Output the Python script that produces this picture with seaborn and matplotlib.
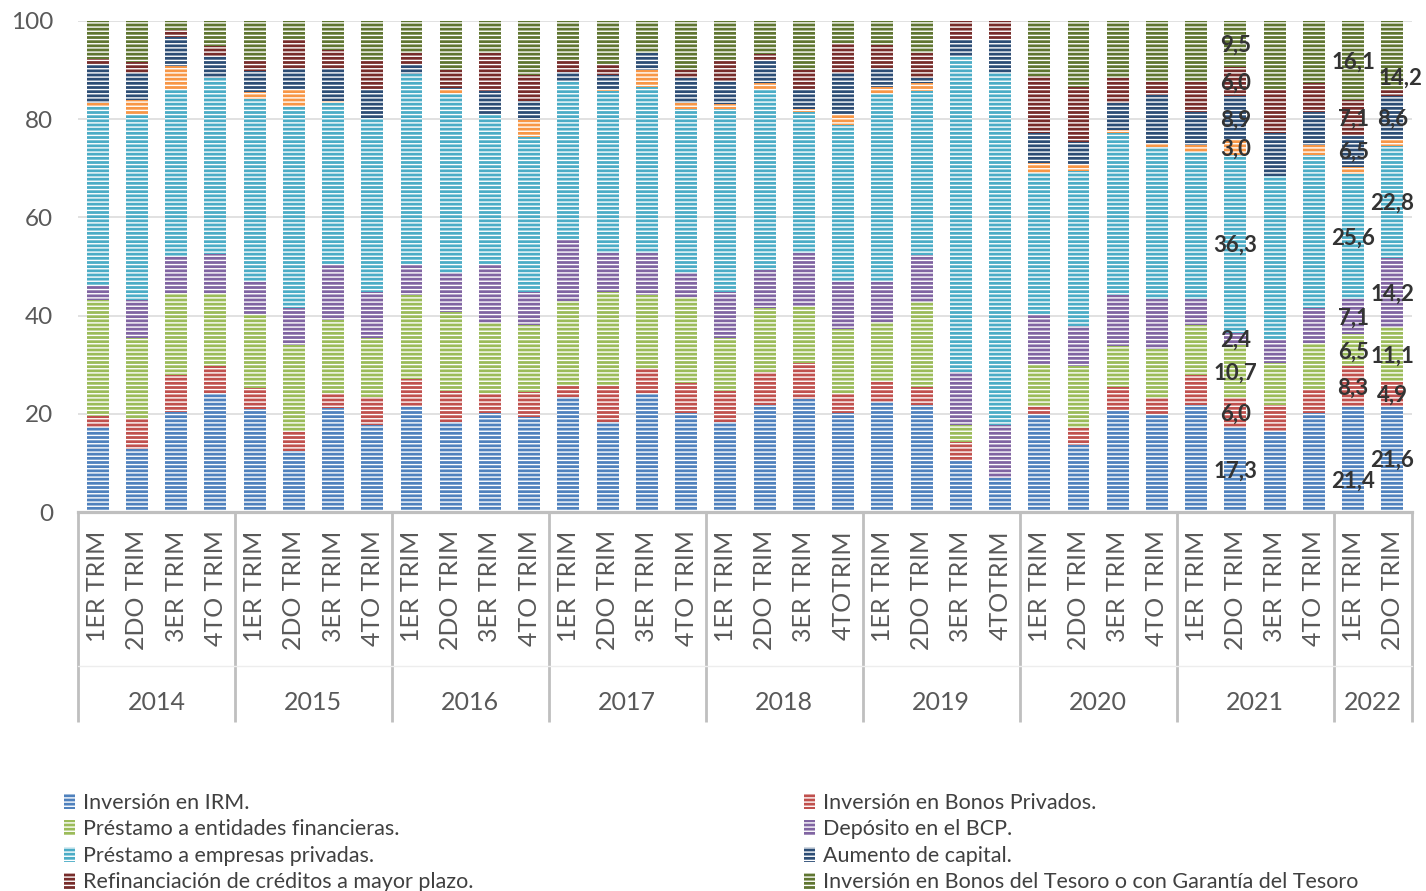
import numpy as np
import matplotlib
matplotlib.use("Agg")
import matplotlib.pyplot as plt
import seaborn as sns
from matplotlib.patches import Patch
from matplotlib.transforms import blended_transform_factory

# ---------------- data ----------------
years = ["2014", "2015", "2016", "2017", "2018", "2019", "2020", "2021", "2022"]
year_counts = [4, 4, 4, 4, 4, 4, 4, 4, 2]
quarter_labels = (
    ["1ER TRIM", "2DO TRIM", "3ER TRIM", "4TO TRIM"] * 4
    + ["1ER TRIM", "2DO TRIM", "3ER TRIM", "4TOTRIM"] * 2
    + ["1ER TRIM", "2DO TRIM", "3ER TRIM", "4TO TRIM"] * 2
    + ["1ER TRIM", "2DO TRIM"]
)

irm = [17.3, 12.8, 20.4, 24.2, 21.0, 12.5, 21.1, 17.7, 21.7, 18.3, 20.1, 19.4,
       23.5, 18.3, 24.0, 20.1, 18.3, 21.9, 23.0, 20.1, 22.5, 21.9, 10.6, 6.9,
       19.9, 13.7, 20.8, 19.8, 21.9, 17.3, 16.6, 20.1, 21.4, 21.6]
bonos_privados = [2.3, 6.1, 7.5, 5.5, 4.3, 4.1, 3.2, 5.8, 5.3, 6.4, 3.9, 5.1,
                  2.2, 7.4, 5.3, 6.2, 6.4, 6.7, 7.4, 3.9, 4.2, 3.6, 3.6, 0.0,
                  1.7, 3.5, 4.7, 3.4, 6.0, 6.0, 5.2, 4.8, 8.3, 4.9]
entidades = [23.6, 16.5, 16.6, 14.7, 15.1, 17.4, 14.8, 12.0, 17.2, 16.1, 14.4, 13.6,
             17.3, 19.0, 14.9, 17.4, 10.8, 13.0, 11.5, 13.2, 11.9, 17.3, 3.5, 0.0,
             8.3, 12.5, 8.4, 10.0, 10.2, 10.7, 8.6, 9.6, 6.5, 11.1]
deposito_bcp = [2.8, 7.8, 7.6, 8.1, 6.5, 7.6, 11.4, 9.2, 6.3, 7.9, 12.1, 6.6,
                12.6, 8.1, 8.6, 5.0, 9.2, 7.7, 10.9, 9.7, 8.3, 9.5, 10.9, 10.8,
                10.4, 8.2, 10.2, 10.2, 5.3, 2.4, 4.6, 7.1, 7.1, 14.2]
empresas = [36.6, 37.8, 34.1, 35.8, 37.1, 40.9, 32.7, 35.6, 38.7, 36.4, 30.5, 31.6,
            32.2, 32.8, 33.8, 33.3, 37.3, 36.5, 28.7, 31.9, 38.2, 33.4, 64.3, 71.6,
            28.8, 31.6, 33.0, 31.0, 29.8, 36.3, 33.5, 31.1, 25.6, 22.8]
otros = [0.6, 2.9, 4.6, 0.0, 1.4, 3.4, 0.5, 0.0, 0.0, 0.9, 0.0, 3.5,
         0.0, 0.5, 3.4, 1.2, 1.1, 1.5, 0.5, 2.0, 1.5, 1.7, 0.0, 0.0,
         1.9, 1.1, 0.7, 0.5, 1.5, 3.0, 0.0, 2.0, 1.4, 1.4]
aumento_capital = [8.0, 5.4, 5.9, 4.6, 4.4, 4.2, 6.4, 5.7, 2.0, 0.4, 4.6, 3.9,
                   1.7, 2.9, 3.4, 5.1, 4.7, 4.7, 4.0, 8.6, 3.7, 0.9, 3.3, 6.9,
                   6.2, 4.8, 5.4, 10.0, 6.8, 8.9, 8.6, 6.8, 6.5, 8.6]
refinanciacion = [1.1, 2.2, 1.5, 1.9, 2.0, 6.1, 3.9, 5.7, 2.2, 3.6, 7.8, 5.3,
                  2.2, 2.2, 0.0, 1.7, 4.3, 1.2, 4.0, 6.0, 4.8, 5.1, 3.8, 3.8,
                  11.6, 11.2, 5.2, 2.9, 6.3, 6.0, 8.9, 5.8, 7.1, 1.2]
bonos_tesoro = [7.7, 8.5, 1.8, 5.2, 8.2, 3.8, 6.0, 8.3, 6.6, 10.0, 6.6, 11.0,
                8.3, 8.8, 6.6, 10.0, 7.9, 6.8, 10.0, 4.6, 4.9, 6.6, 0.0, 0.0,
                11.2, 13.4, 11.6, 12.2, 12.2, 9.5, 14.0, 12.7, 16.1, 14.2]

series_names = [
    "Inversión en IRM.",
    "Inversión en Bonos Privados.",
    "Préstamo a entidades financieras.",
    "Depósito en el BCP.",
    "Préstamo a empresas privadas.",
    "Otros",
    "Aumento de capital.",
    "Refinanciación de créditos a mayor plazo.",
    "Inversión en Bonos del Tesoro o con Garantía del Tesoro",
]
series_values = [irm, bonos_privados, entidades, deposito_bcp, empresas,
                 otros, aumento_capital, refinanciacion, bonos_tesoro]
series_colors = ["#4F81BD", "#C0504D", "#9BBB59", "#8064A2", "#4BACC6",
                 "#F79646", "#2C4D75", "#772C2A", "#5F7530"]

labeled_bars = [29, 32, 33]
label_min_value = 2.0

# ---------------- style ----------------
sns.set_theme(style="white")
plt.rcParams["font.family"] = ["Lato", "DejaVu Sans"]
plt.rcParams["hatch.color"] = "white"
plt.rcParams["hatch.linewidth"] = 1.0

W, H = 1426, 891
fig = plt.figure(figsize=(W / 100, H / 100), dpi=100)
ax_left, ax_right, ax_top, ax_bot = 78, 1412, 20.7, 512.2
ax = fig.add_axes([ax_left / W, 1 - ax_bot / H, (ax_right - ax_left) / W, (ax_bot - ax_top) / H])

n = len(quarter_labels)
ids = [f"b{i}" for i in range(n)]
bottom = np.zeros(n)
bottoms = []
for vals, color in zip(series_values, series_colors):
    v = np.asarray(vals, dtype=float)
    bottoms.append(bottom.copy())
    sns.barplot(x=ids, y=v, order=ids, color=color, saturation=1,
                bottom=bottom.copy(), width=0.56, errorbar=None, ax=ax,
                hatch="----", edgecolor="white", linewidth=0, zorder=3)
    bottom += v

ax.set_xlim(-0.5, n - 0.5)
ax.set_ylim(0, 100)
ax.set_yticks([0, 20, 40, 60, 80, 100])
ax.set_yticklabels(["0", "20", "40", "60", "80", "100"], fontsize=17.5, color="#595959")
ax.yaxis.grid(True, color="#D9D9D9", linewidth=1.1, zorder=0)
ax.set_axisbelow(True)
ax.tick_params(axis="y", length=0, pad=18)
ax.set_xticks(range(n))
ax.set_xticklabels(quarter_labels, rotation=90, fontsize=18, color="#595959",
                   ha="center", va="top")
ax.tick_params(axis="x", length=0, pad=13)
ax.set_xlabel("")
ax.set_ylabel("")
for s in ["left", "right", "top"]:
    ax.spines[s].set_visible(False)
ax.spines["bottom"].set_color("#BFBFBF")
ax.spines["bottom"].set_linewidth(2.3)
ax.spines["bottom"].set_zorder(5)

# group separators and year labels
trans = blended_transform_factory(ax.transData, ax.transAxes)
edges = np.concatenate([[0], np.cumsum(year_counts)]) - 0.5
for e in edges:
    ax.plot([e, e], [0, -0.427], transform=trans, color="#BFBFBF", lw=2.0,
            clip_on=False, solid_capstyle="butt")
ax.plot([-0.5, n - 0.5], [-0.313, -0.313], transform=trans, color="#EDEDED",
        lw=1.0, clip_on=False)
for i, yr in enumerate(years):
    c = (edges[i] + edges[i + 1]) / 2
    ax.text(c, -0.388, yr, transform=trans, ha="center", va="center",
            fontsize=18, color="#595959")

# data labels
label_offsets = {(32, 0): (0.0, -4.1), (33, 8): (0.2, -4.3)}
for b in labeled_bars:
    for k, vals in enumerate(series_values):
        v = vals[b]
        if v < label_min_value:
            continue
        y = bottoms[k][b] + v / 2
        dx, dy = label_offsets.get((b, k), (0.0, 0.0))
        ax.text(b + dx, y + dy - 0.3, f"{v:.1f}".replace(".", ","), ha="center",
                va="center", fontsize=16, fontweight="bold", color="#333333",
                zorder=6)

# legend (orange series not listed, as in the original)
def handle(i):
    return Patch(facecolor=series_colors[i], edgecolor="white", hatch="----",
                 linewidth=0)

left_idx = [0, 2, 4, 7]
right_idx = [1, 3, 6, 8]
common = dict(frameon=False, fontsize=15.5, handlelength=0.5, handleheight=0.75,
              handletextpad=0.4, labelspacing=0.30, borderpad=0,
              borderaxespad=0, loc="upper left", labelcolor="#404040")
leg1 = fig.legend([handle(i) for i in left_idx], [series_names[i] for i in left_idx],
                  bbox_to_anchor=(64 / W, 1 - 793 / H), **common)
leg2 = fig.legend([handle(i) for i in right_idx], [series_names[i] for i in right_idx],
                  bbox_to_anchor=(804 / W, 1 - 793 / H), **common)

fig.savefig("out.png", dpi=100)
